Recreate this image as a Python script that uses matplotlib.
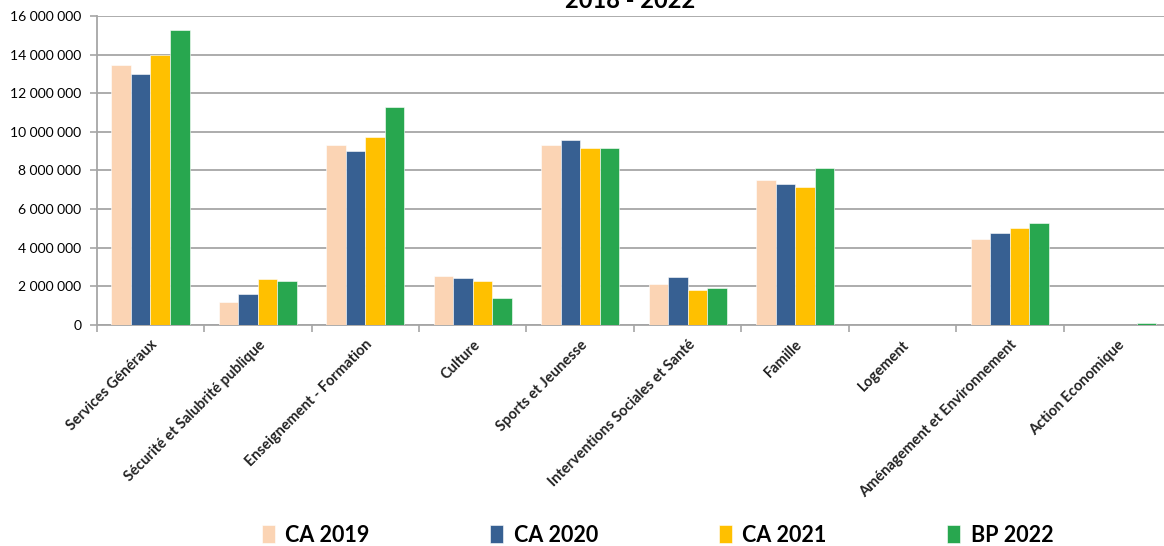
import matplotlib
matplotlib.use("Agg")
import matplotlib.pyplot as plt
from matplotlib.ticker import FuncFormatter, MultipleLocator
import numpy as np

categories = ["Services Généraux", "Sécurité et Salubrité publique",
              "Enseignement - Formation", "Culture", "Sports et Jeunesse",
              "Interventions Sociales et Santé", "Famille", "Logement",
              "Aménagement et Environnement", "Action Economique"]
series = ["CA 2019", "CA 2020", "CA 2021", "BP 2022"]
ca2019 = [13450000, 1200000, 9330000, 2540000, 9330000, 2100000, 7530000, 0, 4430000, 0]
ca2020 = [13000000, 1580000, 9000000, 2410000, 9570000, 2470000, 7280000, 0, 4760000, 0]
ca2021 = [14000000, 2360000, 9760000, 2280000, 9190000, 1790000, 7160000, 0, 5000000, 0]
bp2022 = [15270000, 2280000, 11270000, 1410000, 9190000, 1920000, 8110000, 0, 5260000, 80000]
colors = ["#FBD4B4", "#376092", "#FFC000", "#28A74F"]

plt.rcParams['font.family'] = ['Lato', 'DejaVu Sans']

fig = plt.figure(figsize=(11.64, 5.46), dpi=100)
ax = fig.add_axes([0.0831, 0.4048, 0.923, 0.5659])

x = np.arange(len(categories))
w = 0.182
bars = []
for k, (vals, col) in enumerate(zip([ca2019, ca2020, ca2021, bp2022], colors)):
    b = ax.bar(x + (k - 1.5) * w, vals, w, color=col, edgecolor="white",
               linewidth=0.4, label=series[k], zorder=3)
    bars.append(b)

ax.set_xlim(-0.5, len(categories) - 0.5)
ax.set_ylim(0, 16000000)
ax.yaxis.set_major_locator(MultipleLocator(2000000))
ax.yaxis.set_major_formatter(FuncFormatter(lambda v, p: f"{int(v):,}".replace(",", " ")))
ax.grid(axis="y", color="#A6A6A6", linewidth=1.3, zorder=0)

ax.set_xticks(x)
ax.set_xticklabels(categories, rotation=45, ha="right", rotation_mode="anchor",
                   fontsize=10.5, fontweight="bold", color="#222222")
ax.set_xticks(np.arange(-0.5, len(categories), 1), minor=True)
ax.tick_params(axis="x", which="major", length=0, pad=9)
ax.tick_params(axis="x", which="minor", length=5, color="#A6A6A6", width=1.2)
ax.tick_params(axis="y", length=5, color="#A6A6A6", width=1.2, labelsize=10, pad=6)

for s in ["top", "right"]:
    ax.spines[s].set_visible(False)
for s in ["left", "bottom"]:
    ax.spines[s].set_color("#A6A6A6")
    ax.spines[s].set_linewidth(1.3)

fig.text(0.541, 0.985, "2018 - 2022", ha="center", va="baseline",
         fontsize=17, fontweight="bold")

fig.legend(handles=bars, labels=series, loc="lower center", ncol=4,
           bbox_to_anchor=(0.565, -0.035), frameon=False,
           prop={"size": 15.5, "weight": "bold"}, handlelength=0.6,
           handleheight=0.9, handletextpad=0.5, columnspacing=5.6)

fig.savefig("out.png", dpi=100)
